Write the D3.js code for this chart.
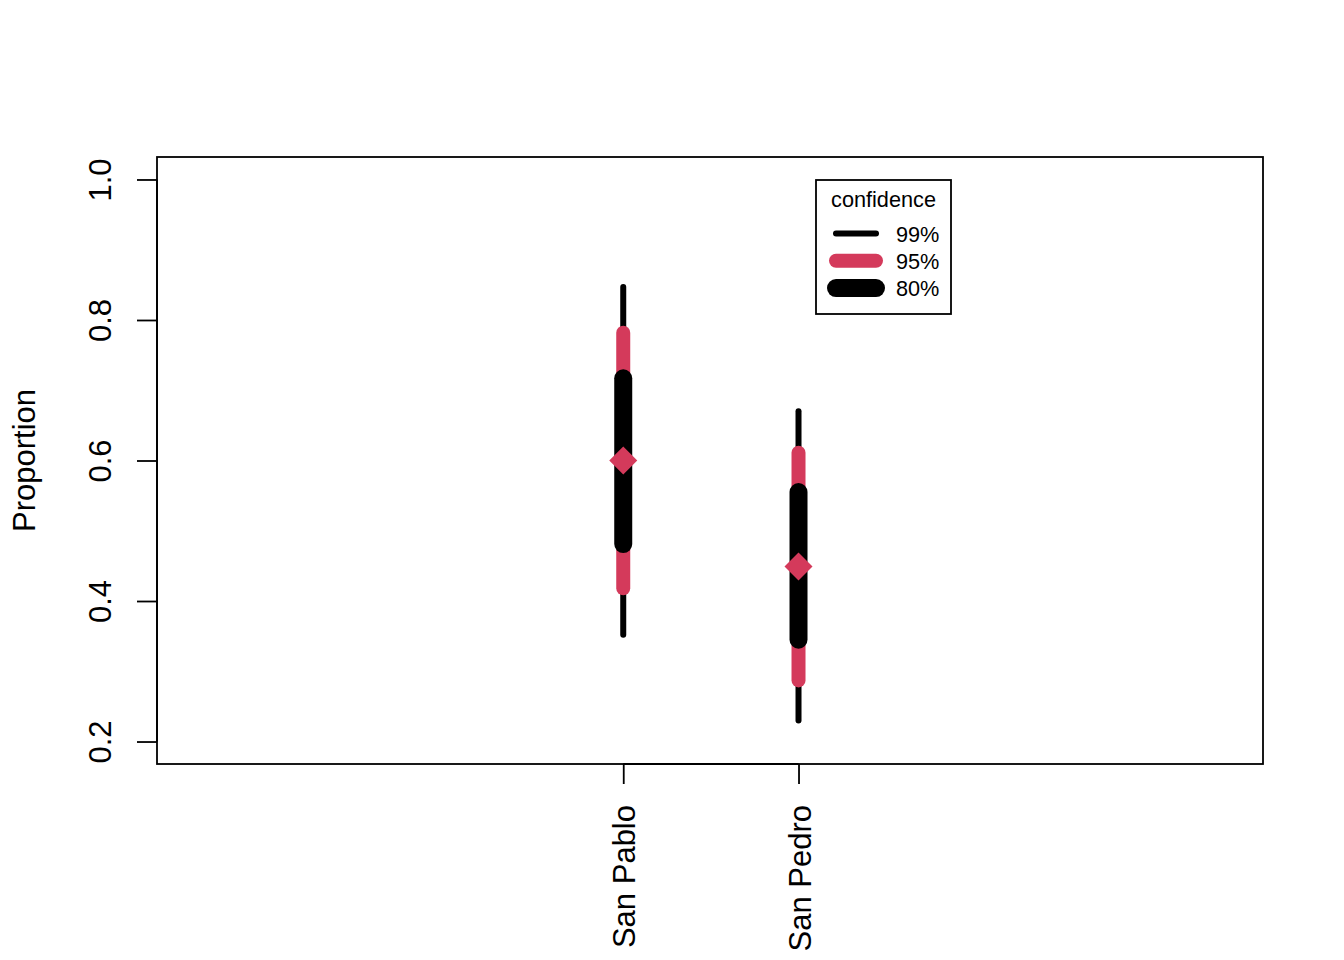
<!DOCTYPE html>
<html>
<head>
<meta charset="utf-8">
<script src="https://cdn.jsdelivr.net/npm/d3@7"></script>
<style>
  html, body { margin: 0; padding: 0; background: #fff; }
  svg { display: block; font-family: "Liberation Sans", Arial, sans-serif; }
</style>
</head>
<body>
<svg id="chart" width="1344" height="960"></svg>
<script>
// data
const sites = ['San Pablo', 'San Pedro'];
const estimate = [0.60, 0.449];
const ci99Low = [0.352, 0.230];
const ci99High = [0.847, 0.670];
const ci95Low = [0.418, 0.287];
const ci95High = [0.782, 0.611];
const ci80Low = [0.481, 0.345];
const ci80High = [0.717, 0.555];
const yTicks = [0.2, 0.4, 0.6, 0.8, 1.0];
const levels = ['99%', '95%', '80%'];

const red = '#D43A5B';
const levelStyle = {
  '99%': { color: '#000', width: 6 },
  '95%': { color: red, width: 14 },
  '80%': { color: '#000', width: 18 }
};

const svg = d3.select('#chart');
const box = { left: 157, right: 1263, top: 157, bottom: 764 };

const x = d3.scaleLinear()
  .domain([-1.66, 4.65])
  .range([box.left, box.right]);

const y = d3.scaleLinear()
  .domain([0.168, 1.032])
  .range([box.bottom, box.top]);

const rows = sites.map((s, i) => ({
  site: s,
  pos: i + 1,
  est: estimate[i],
  ci: {
    '99%': [ci99Low[i], ci99High[i]],
    '95%': [ci95Low[i], ci95High[i]],
    '80%': [ci80Low[i], ci80High[i]]
  }
}));

// interval bars, widest first
levels.forEach(lv => {
  svg.append('g')
    .selectAll('line')
    .data(rows)
    .enter()
    .append('line')
    .attr('x1', d => x(d.pos))
    .attr('x2', d => x(d.pos))
    .attr('y1', d => y(d.ci[lv][0]))
    .attr('y2', d => y(d.ci[lv][1]))
    .attr('stroke', levelStyle[lv].color)
    .attr('stroke-width', levelStyle[lv].width)
    .attr('stroke-linecap', 'round');
});

// point estimates
svg.append('g')
  .selectAll('path')
  .data(rows)
  .enter()
  .append('path')
  .attr('d', d3.symbol(d3.symbolSquare, 392))
  .attr('transform', d => `translate(${x(d.pos)},${y(d.est)}) rotate(45)`)
  .attr('fill', red);

// plot box
svg.append('rect')
  .attr('x', box.left)
  .attr('y', box.top)
  .attr('width', box.right - box.left)
  .attr('height', box.bottom - box.top)
  .attr('fill', 'none')
  .attr('stroke', '#000')
  .attr('stroke-width', 1.8);

// y axis
const yAxis = svg.append('g')
  .attr('transform', `translate(${box.left},0)`)
  .call(d3.axisLeft(y).tickValues(yTicks).tickSize(20).tickFormat(d3.format('.1f')));
yAxis.select('.domain')
  .attr('d', `M0,${y(0.2)}V${y(1.0)}`)
  .attr('stroke-width', 1.8);
yAxis.selectAll('.tick line').attr('stroke-width', 1.8);
yAxis.selectAll('.tick text')
  .attr('x', null)
  .attr('dy', null)
  .attr('text-anchor', 'middle')
  .attr('transform', 'translate(-46,0) rotate(-90)')
  .style('font-size', '31px')
  .style('font-family', '"Liberation Sans", Arial, sans-serif')
  .attr('fill', '#000');

// x axis
const xAxis = svg.append('g')
  .attr('transform', `translate(0,${box.bottom})`)
  .call(d3.axisBottom(x).tickValues(rows.map(d => d.pos)).tickSize(20)
    .tickFormat((d, i) => sites[i]));
xAxis.select('.domain')
  .attr('d', `M${x(1)},0H${x(2)}`)
  .attr('stroke-width', 1.8);
xAxis.selectAll('.tick line').attr('stroke-width', 1.8);
xAxis.selectAll('.tick text')
  .attr('y', null)
  .attr('dy', null)
  .attr('text-anchor', 'end')
  .attr('transform', 'translate(11.5,41) rotate(-90)')
  .style('font-size', '31px')
  .style('font-family', '"Liberation Sans", Arial, sans-serif')
  .attr('fill', '#000');

// y axis title
svg.append('text')
  .attr('transform', `translate(35,${(box.top + box.bottom) / 2}) rotate(-90)`)
  .attr('text-anchor', 'middle')
  .style('font-size', '31px')
  .text('Proportion');

// legend
const leg = svg.append('g').attr('transform', 'translate(816,180)');
leg.append('rect')
  .attr('width', 135)
  .attr('height', 134)
  .attr('fill', '#fff')
  .attr('stroke', '#000')
  .attr('stroke-width', 1.8);
leg.append('text')
  .attr('x', 67.5)
  .attr('y', 26.5)
  .attr('text-anchor', 'middle')
  .style('font-size', '21.7px')
  .text('confidence');
const legRow = leg.selectAll('g.row')
  .data(levels)
  .enter()
  .append('g')
  .attr('class', 'row')
  .attr('transform', (d, i) => `translate(0,${53.5 + i * 27.3})`);
legRow.append('line')
  .attr('x1', 20)
  .attr('x2', 60)
  .attr('stroke', d => levelStyle[d].color)
  .attr('stroke-width', d => levelStyle[d].width)
  .attr('stroke-linecap', 'round');
legRow.append('text')
  .attr('x', 80)
  .attr('y', 8)
  .style('font-size', '21.7px')
  .text(d => d);
</script>
</body>
</html>
